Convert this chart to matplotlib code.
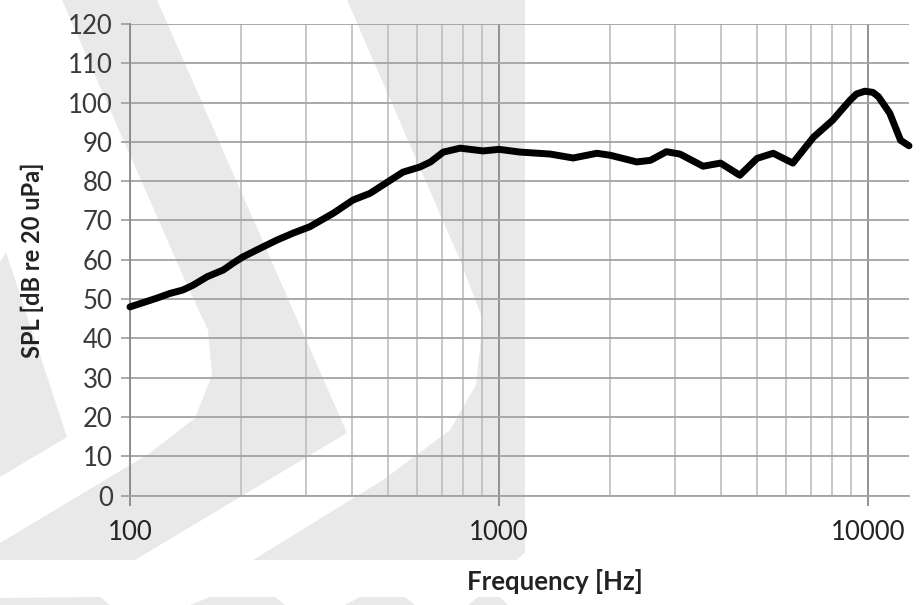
import matplotlib.pyplot as plt
from matplotlib.patches import Polygon
from matplotlib.ticker import FixedLocator, NullFormatter

# frequency response
freq = [100, 118, 128, 139, 148, 162, 179, 190, 202, 225, 250, 277, 307, 355,
        402, 447, 484, 549, 610, 652, 706, 784, 905, 1000, 1140, 1375, 1587,
        1840, 2000, 2360, 2570, 2840, 3090, 3570, 3980, 4490, 5000, 5530,
        6250, 7110, 8010, 8930, 9300, 9800, 10300, 10660, 11440, 12240, 12900]
spl = [48.0, 50.2, 51.4, 52.3, 53.5, 55.7, 57.4, 59.1, 60.7, 62.9, 65.0, 66.8,
       68.4, 71.8, 75.2, 76.9, 79.0, 82.3, 83.6, 84.9, 87.4, 88.4, 87.7, 88.1,
       87.4, 86.9, 85.9, 87.1, 86.6, 84.9, 85.3, 87.5, 86.9, 83.8, 84.6, 81.5,
       85.8, 87.1, 84.6, 91.2, 95.5, 100.6, 102.2, 102.9, 102.6, 101.5, 97.3,
       90.4, 89.0]

y_ticks = list(range(0, 121, 10))
x_major = [100, 1000, 10000]
x_labels = ["100", "1000", "10000"]

W, H = 921, 605
plt.rcParams['font.family'] = ['Lato', 'DejaVu Sans']

fig = plt.figure(figsize=(W / 100, H / 100), dpi=100)

# watermark in the background (pixel coords, y from top)
bg = fig.add_axes([0, 0, 1, 1], zorder=-1)
bg.set_xlim(0, W)
bg.set_ylim(H, 0)
bg.axis("off")
wm_color = "#e9e9e9"
shapes = [
    [(347, 0), (525, 0), (525, 552), (517, 560), (253, 560), (383, 480),
     (450, 430), (476, 385), (483, 320), (460, 260)],
    [(62, 0), (157, 0), (347, 433), (135, 560), (0, 560), (0, 543),
     (150, 453), (195, 418), (212, 375), (208, 330), (187, 285)],
    [(0, 262), (6, 252), (67, 437), (0, 477)],
    [(0, 605), (0, 598), (100, 597), (110, 605)],
    [(190, 605), (210, 597), (275, 597), (285, 605)],
    [(345, 605), (360, 597), (405, 597), (415, 605)],
    [(468, 605), (478, 597), (500, 597), (508, 605)],
]
for pts in shapes:
    bg.add_patch(Polygon(pts, closed=True, facecolor=wm_color, edgecolor="none"))

left, right, top, bottom = 130, 909, 24, 495.5
ax = fig.add_axes([left / W, 1 - bottom / H, (right - left) / W, (bottom - top) / H],
                  zorder=1)
ax.patch.set_alpha(0)

ax.set_xscale("log")
ax.set_xlim(100, 12900)
ax.set_ylim(0, 120)

ax.xaxis.set_major_locator(FixedLocator(x_major))
ax.set_xticklabels(x_labels)
minor = [m * d for d in (100, 1000, 10000) for m in range(2, 10) if m * d <= 12900]
ax.xaxis.set_minor_locator(FixedLocator(minor))
ax.xaxis.set_minor_formatter(NullFormatter())
ax.set_yticks(y_ticks)

ax.grid(True, which="major", axis="x", color="#8a8a8a", lw=1.3)
ax.grid(True, which="minor", axis="x", color="#c2c2c2", lw=1.3)
ax.grid(True, which="major", axis="y", color="#a3a3a3", lw=1.3)

for s in ("top", "right"):
    ax.spines[s].set_visible(False)
ax.spines["left"].set_color("#8a8a8a")
ax.spines["bottom"].set_color("#a3a3a3")
ax.spines["left"].set_linewidth(1.3)
ax.spines["bottom"].set_linewidth(1.3)

ax.tick_params(axis="y", which="major", length=6.5, width=1.3, color="#a3a3a3",
               labelsize=18.5, labelcolor="#3a3a3a", pad=6)
ax.tick_params(axis="x", which="major", length=7, width=1.3, color="#8a8a8a",
               labelsize=18.5, labelcolor="#222222", pad=11)
ax.tick_params(axis="x", which="minor", length=0)

ax.plot(freq, spl, color="black", lw=5, solid_joinstyle="round",
        solid_capstyle="round", zorder=5, clip_on=False)

fig.text(555 / W, 1 - 581 / H, "Frequency [Hz]", ha="center", va="center",
         fontsize=18.5, fontweight="bold", color="#222222")
fig.text(32 / W, 1 - 260 / H, "SPL [dB re 20 uPa]", ha="center", va="center",
         rotation=90, fontsize=17, fontweight="bold", color="#222222")

fig.savefig("out.png", dpi=100)
